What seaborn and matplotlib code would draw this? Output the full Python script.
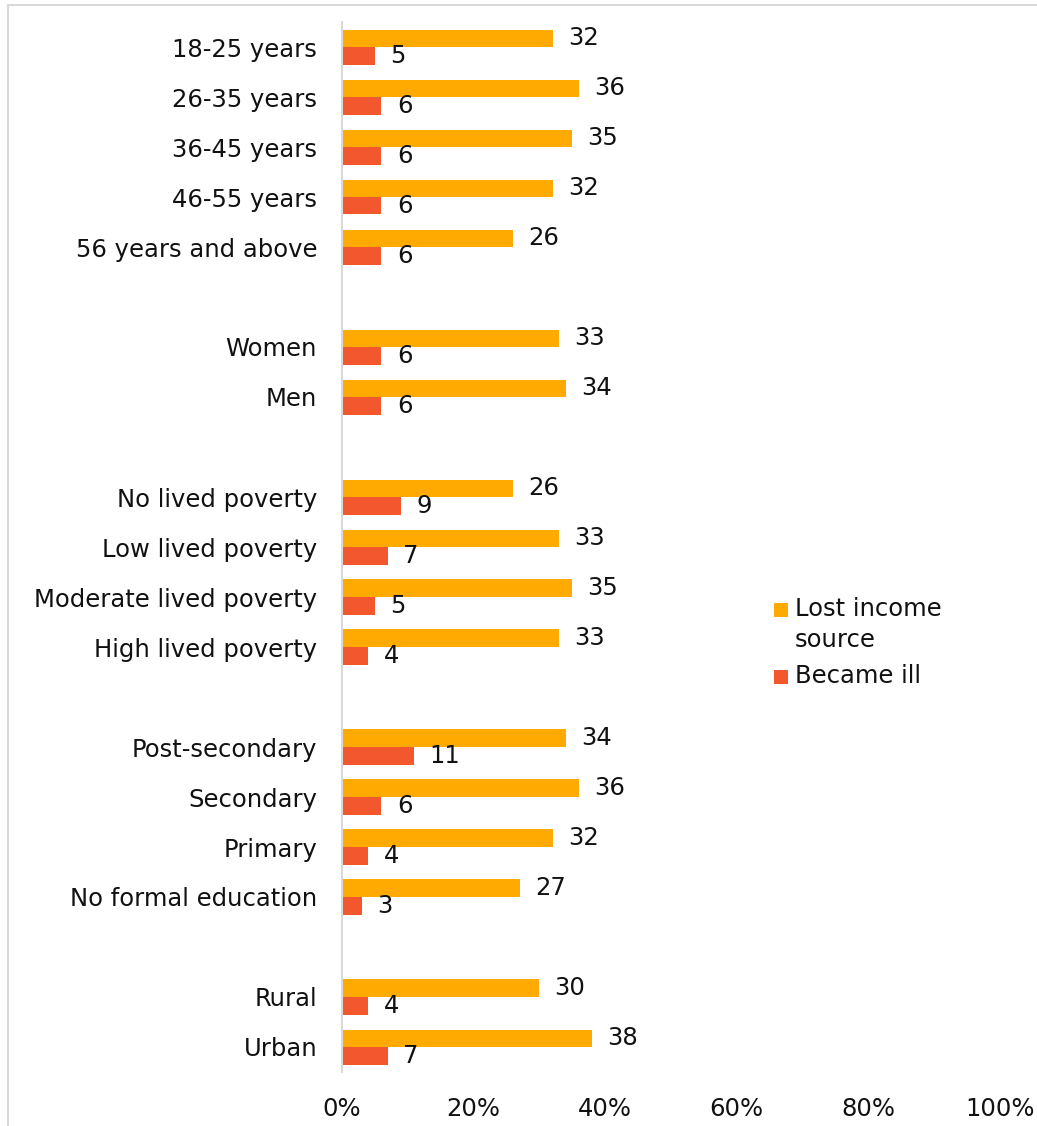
import matplotlib
matplotlib.use("Agg")
import matplotlib.pyplot as plt
from matplotlib.patches import Rectangle
from matplotlib.lines import Line2D
import seaborn as sns
import pandas as pd

# Respondent groups, top to bottom; blank strings separate the groups
groups = [
    "18-25 years", "26-35 years", "36-45 years", "46-55 years", "56 years and above",
    "",
    "Women", "Men",
    " ",
    "No lived poverty", "Low lived poverty", "Moderate lived poverty", "High lived poverty",
    "  ",
    "Post-secondary", "Secondary", "Primary", "No formal education",
    "   ",
    "Rural", "Urban",
]
categories = [g for g in groups if g.strip()]

lost_income = [32, 36, 35, 32, 26, 33, 34, 26, 33, 35, 33, 34, 36, 32, 27, 30, 38]
became_ill = [5, 6, 6, 6, 6, 6, 6, 9, 7, 5, 4, 11, 6, 4, 3, 4, 7]

series_names = ["Lost income source", "Became ill"]
legend_labels = ["Lost income\nsource", "Became ill"]
colors = ["#FFAA00", "#F2572D"]
x_ticks = [0, 20, 40, 60, 80, 100]

df = pd.DataFrame({
    "group": categories * 2,
    "series": [series_names[0]] * len(categories) + [series_names[1]] * len(categories),
    "value": lost_income + became_ill,
})

sns.set_theme(style="white")
plt.rcParams["font.family"] = ["DejaVu Sans"]

FS = 17.5
TXT = "#111111"
W, H = 1037, 1126

fig = plt.figure(figsize=(W / 100, H / 100), dpi=100)
fig.patch.set_edgecolor("white")
fig.patch.set_linewidth(0)
ax = fig.add_axes([342 / W, 1 - 1072 / H, 658 / W, 1050 / H])

sns.barplot(
    data=df, y="group", x="value", hue="series", order=groups,
    hue_order=series_names, palette=colors, width=0.7, orient="h",
    saturation=1, ax=ax, legend=False, linewidth=0, edgecolor="none",
)

for container in ax.containers:
    ax.bar_label(container, fmt="%d", padding=11, fontsize=FS, color=TXT)

ax.set_xlim(0, 100)
ax.set_xticks(x_ticks)
ax.set_xticklabels([f"{t}%" for t in x_ticks], fontsize=FS, color=TXT)
ax.set_yticklabels([g.strip() for g in groups], fontsize=FS, color=TXT)
ax.tick_params(axis="x", length=0, pad=18)
ax.tick_params(axis="y", length=0, pad=18)
ax.set_xlabel("")
ax.set_ylabel("")
for side in ["top", "right", "bottom"]:
    ax.spines[side].set_visible(False)
ax.spines["left"].set_color("#D9D9D9")
ax.spines["left"].set_linewidth(1.5)

# Legend: colour keys aligned with the first line of each label
key = 14
legend_rows = [(610, legend_labels[0], colors[0]), (677, legend_labels[1], colors[1])]
for y_px, label, color in legend_rows:
    fig.patches.append(Rectangle(
        (774 / W, 1 - (y_px + key / 2) / H), key / W, key / H,
        transform=fig.transFigure, facecolor=color, edgecolor="none",
    ))
    fig.text(795 / W, 1 - (y_px - 13) / H, label, fontsize=FS, color=TXT,
             ha="left", va="top", linespacing=1.35)

# Light outer frame: top and left edges of the chart area
frame_x = 8 / W
frame_y = 1 - 5 / H
fig.lines.append(Line2D([frame_x, 1.0], [frame_y, frame_y], transform=fig.transFigure,
                        color="#D9D9D9", linewidth=1.5))
fig.lines.append(Line2D([frame_x, frame_x], [0.0, frame_y], transform=fig.transFigure,
                        color="#D9D9D9", linewidth=1.5))

fig.savefig("out.png", dpi=100, facecolor="white")
